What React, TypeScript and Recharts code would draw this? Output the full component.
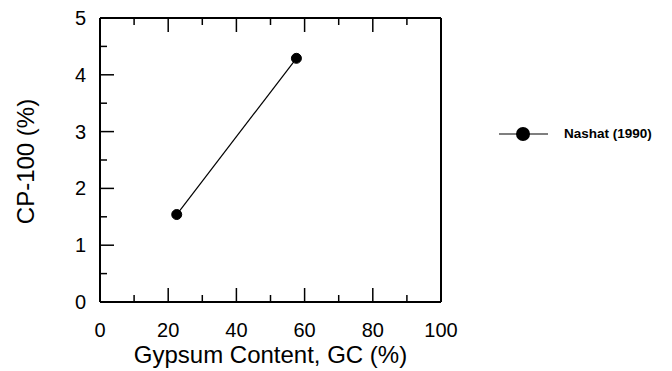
import React from "react";
import { LineChart, Line, XAxis, YAxis } from "recharts";

const gypsumContent = [22.5, 57.6];
const cp100 = [1.54, 4.29];
const seriesName = "Nashat (1990)";
const xTicks = [0, 10, 20, 30, 40, 50, 60, 70, 80, 90, 100];
const yTicks = [0, 0.5, 1, 1.5, 2, 2.5, 3, 3.5, 4, 4.5, 5];
const xTitle = "Gypsum Content, GC (%)";
const yTitle = "CP-100 (%)";

const data = gypsumContent.map((gc, i) => ({ gc, cp: cp100[i] }));

const FONT = "'Liberation Sans', Arial, Helvetica, sans-serif";
const MAJOR = 14;
const MINOR = 7;

const BottomTick = (props: any) => {
  const { x, y, payload } = props;
  const v = payload.value;
  const major = v % 20 === 0;
  return (
    <g>
      <line x1={x} y1={y} x2={x} y2={y - (major ? MAJOR : MINOR)} stroke="#000" strokeWidth={1.5} />
      {major && (
        <text x={x} y={y + 34.5} textAnchor="middle" fontSize={20} fontFamily={FONT} fill="#000">
          {v}
        </text>
      )}
    </g>
  );
};

const TopTick = (props: any) => {
  const { x, y, payload } = props;
  const major = payload.value % 20 === 0;
  return <line x1={x} y1={y} x2={x} y2={y + (major ? MAJOR : MINOR)} stroke="#000" strokeWidth={1.5} />;
};

const LeftTick = (props: any) => {
  const { x, y, payload } = props;
  const v = payload.value;
  const major = Number.isInteger(v);
  return (
    <g>
      <line x1={x} y1={y} x2={x + (major ? MAJOR : MINOR)} y2={y} stroke="#000" strokeWidth={1.5} />
      {major && (
        <text x={x - 14} y={y + 7} textAnchor="end" fontSize={20} fontFamily={FONT} fill="#000">
          {v}
        </text>
      )}
    </g>
  );
};

const RightTick = (props: any) => {
  const { x, y, payload } = props;
  const major = Number.isInteger(payload.value);
  return <line x1={x} y1={y} x2={x - (major ? MAJOR : MINOR)} y2={y} stroke="#000" strokeWidth={1.5} />;
};

const LegendBox = () => (
  <div
    style={{
      position: "absolute",
      left: 499,
      top: 124,
      display: "flex",
      alignItems: "center",
      fontFamily: FONT,
      whiteSpace: "nowrap",
    }}
  >
    <svg width={49} height={20} style={{ display: "block" }}>
      <line x1={0} y1={10} x2={49} y2={10} stroke="#000" strokeWidth={1.2} />
      <circle cx={24} cy={10} r={7} fill="#000" />
    </svg>
    <span style={{ marginLeft: 16, fontWeight: "bold", fontSize: 13.5, lineHeight: "20px", color: "#000" }}>
      {seriesName}
    </span>
  </div>
);

const YTitle = (props: any) => {
  const { viewBox } = props;
  const cx = viewBox.x - 15;
  const cy = viewBox.y + viewBox.height / 2 + 1.5;
  return (
    <text
      x={cx}
      y={cy}
      transform={`rotate(-90, ${cx}, ${cy})`}
      textAnchor="middle"
      dominantBaseline="central"
      fontSize={24}
      fontFamily={FONT}
      fill="#000"
    >
      {yTitle}
    </text>
  );
};

const XTitle = (props: any) => {
  const { viewBox } = props;
  const cx = viewBox.x + viewBox.width / 2;
  const cy = viewBox.y + 61;
  return (
    <text x={cx} y={cy} textAnchor="middle" fontSize={24} fontFamily={FONT} fill="#000">
      {xTitle}
    </text>
  );
};

export default function App() {
  return (
    <div style={{ position: "absolute", left: 0, top: 0, width: 672, height: 371, background: "#fff" }}>
      <LineChart
        width={672}
        height={371}
        data={data}
        margin={{ top: 8, right: 221, left: 40, bottom: 39 }}
        style={{ fontFamily: FONT }}
      >
        <XAxis
          xAxisId="bottom"
          dataKey="gc"
          type="number"
          domain={[0, 100]}
          ticks={xTicks}
          interval={0}
          tickSize={0}
          tickMargin={0}
          height={30}
          tick={<BottomTick />}
          axisLine={{ stroke: "#000", strokeWidth: 2 }}
          tickLine={false}
          allowDataOverflow
          label={<XTitle />}
        />
        <XAxis
          xAxisId="top"
          orientation="top"
          type="number"
          dataKey="gc"
          domain={[0, 100]}
          ticks={xTicks}
          interval={0}
          tickSize={0}
          tickMargin={0}
          height={10}
          tick={<TopTick />}
          axisLine={{ stroke: "#000", strokeWidth: 2 }}
          tickLine={false}
        />
        <YAxis
          yAxisId="left"
          type="number"
          domain={[0, 5]}
          ticks={yTicks}
          interval={0}
          tickSize={0}
          tickMargin={0}
          width={60}
          tick={<LeftTick />}
          axisLine={{ stroke: "#000", strokeWidth: 2 }}
          tickLine={false}
          label={<YTitle />}
        />
        <YAxis
          yAxisId="right"
          orientation="right"
          type="number"
          domain={[0, 5]}
          ticks={yTicks}
          interval={0}
          tickSize={0}
          tickMargin={0}
          width={10}
          tick={<RightTick />}
          axisLine={{ stroke: "#000", strokeWidth: 2 }}
          tickLine={false}
        />
        <Line
          xAxisId="bottom"
          yAxisId="left"
          dataKey="cp"
          name={seriesName}
          stroke="#000"
          strokeWidth={1.2}
          dot={{ r: 5, fill: "#000", stroke: "#000", strokeWidth: 1 }}
          activeDot={false}
          isAnimationActive={false}
        />
      </LineChart>
      <LegendBox />
    </div>
  );
}
